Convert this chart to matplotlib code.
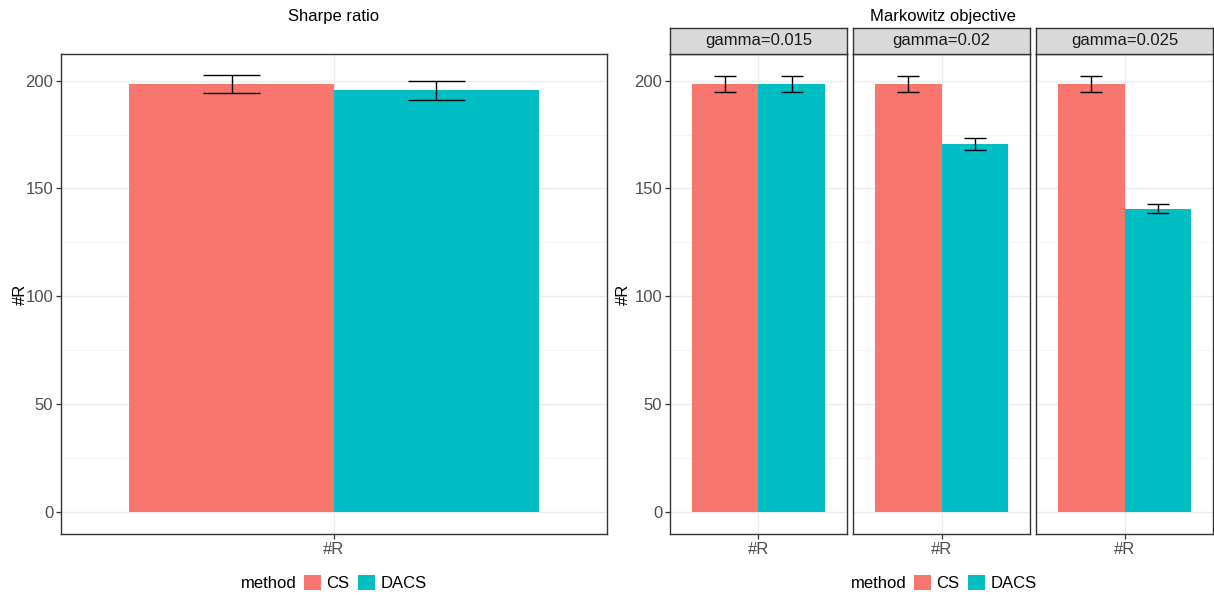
import matplotlib
matplotlib.use('Agg')
import matplotlib.pyplot as plt
from matplotlib.patches import Patch

methods = ['CS', 'DACS']
colors = ['#F8766D', '#00BFC4']

sharpe_mean = [198.2, 195.4]
sharpe_err = [4.2, 4.5]

gammas = ['gamma=0.015', 'gamma=0.02', 'gamma=0.025']
mk_cs_mean = [198.5, 198.5, 198.5]
mk_cs_err = [3.8, 3.8, 3.8]
mk_dacs_mean = [198.4, 170.5, 140.7]
mk_dacs_err = [3.8, 2.8, 2.1]

xcat = '#R'
yticks = [0, 50, 100, 150, 200]

plt.rcParams['font.family'] = ['Liberation Sans', 'DejaVu Sans']

W, H = 1214, 595
fig = plt.figure(figsize=(W / 100, H / 100), dpi=100)


def px_axes(x0, y0, x1, y1):
    return fig.add_axes([x0 / W, 1 - y1 / H, (x1 - x0) / W, (y1 - y0) / H])


def style_panel(ax, show_y=True):
    ax.set_xlim(0.4, 1.6)
    ax.set_ylim(-10.1, 212.3)
    ax.set_yticks(yticks)
    ax.set_yticks([25, 75, 125, 175], minor=True)
    ax.set_xticks([1])
    ax.set_xticklabels([xcat])
    ax.grid(True, which='major', color='#EBEBEB', lw=1.0, zorder=0)
    ax.grid(True, which='minor', axis='y', color='#F3F3F3', lw=0.6, zorder=0)
    ax.set_axisbelow(True)
    for s in ax.spines.values():
        s.set_color('#333333')
        s.set_linewidth(1.0)
    ax.tick_params(which='major', length=3.5, width=0.9, color='#333333',
                   labelcolor='#4D4D4D', labelsize=12, pad=2)
    ax.tick_params(which='minor', length=0)
    if not show_y:
        ax.tick_params(axis='y', left=False, labelleft=False)


def draw_bars(ax, means, errs, ebw):
    w = 0.45
    for i, (m, e) in enumerate(zip(means, errs)):
        xc = 1 - w / 2 + i * w
        ax.bar(xc, m, width=w, color=colors[i], zorder=2)
        ax.errorbar(xc, m, yerr=e, fmt='none', ecolor='black', elinewidth=1.0,
                    capsize=0, zorder=3)
        ax.hlines([m - e, m + e], xc - ebw / 2, xc + ebw / 2, color='black',
                  lw=1.0, zorder=3)


# left panel: Sharpe ratio
axl = px_axes(61, 54, 607, 534)
style_panel(axl)
draw_bars(axl, sharpe_mean, sharpe_err, 0.125)
axl.set_ylabel('#R', fontsize=12)
axl.yaxis.set_label_coords((28 - 61) / 546, 0.5)
fig.text(334 / W, 1 - 17 / H, 'Sharpe ratio', ha='center', va='center', fontsize=12)

# right panels: Markowitz objective faceted by gamma
facet_x = [(670, 847), (853, 1030), (1036, 1213)]
for k, (x0, x1) in enumerate(facet_x):
    ax = px_axes(x0, 54, x1, 534)
    style_panel(ax, show_y=(k == 0))
    draw_bars(ax, [mk_cs_mean[k], mk_dacs_mean[k]], [mk_cs_err[k], mk_dacs_err[k]], 0.15)
    if k == 0:
        ax.set_ylabel('#R', fontsize=12)
        ax.yaxis.set_label_coords((631 - x0) / (x1 - x0), 0.5)
    st = px_axes(x0, 28, x1, 54)
    st.set_facecolor('#D9D9D9')
    st.set_xticks([])
    st.set_yticks([])
    for s in st.spines.values():
        s.set_color('#333333')
        s.set_linewidth(1.0)
    st.text(0.5, 0.5, gammas[k], transform=st.transAxes, ha='center', va='center',
            fontsize=12, color='#1A1A1A')
fig.text(943 / W, 1 - 17 / H, 'Markowitz objective', ha='center', va='center', fontsize=12)

# legends
handles = [Patch(facecolor=c, edgecolor='none') for c in colors]
for x0 in [241, 851]:
    fig.text(x0 / W, 1 - 583 / H, 'method', ha='left', va='center', fontsize=12)
    fig.legend(handles, methods, loc='center left',
               bbox_to_anchor=((x0 + 63) / W, 1 - 583 / H), ncol=2, frameon=False,
               fontsize=12, handlelength=1.0, handleheight=1.0,
               handletextpad=0.35, columnspacing=0.5, borderpad=0, borderaxespad=0)

fig.savefig('out.png', dpi=100)
